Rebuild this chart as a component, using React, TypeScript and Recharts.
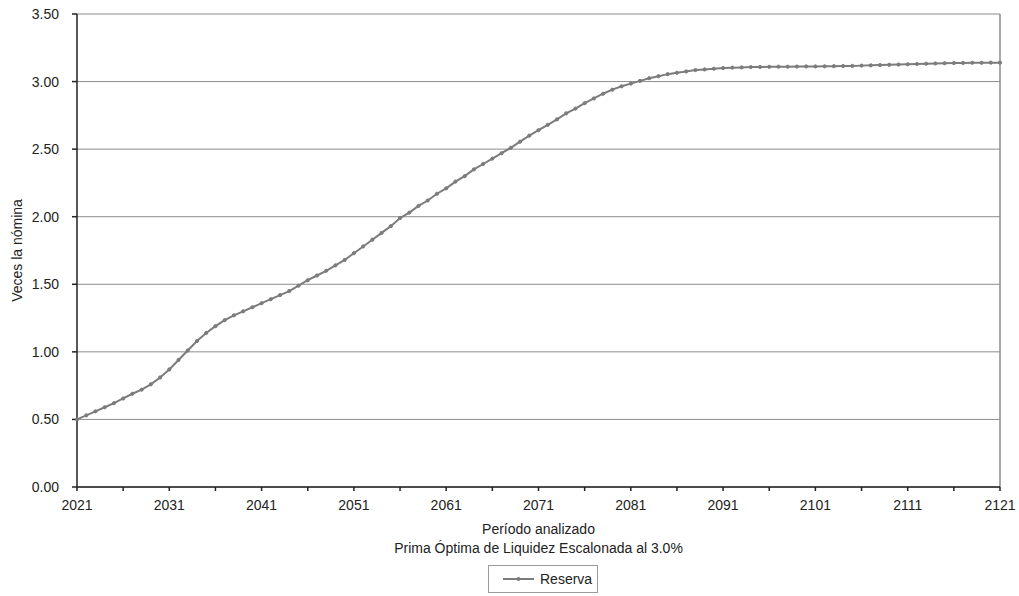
import React from 'react';
import { LineChart, Line, XAxis, YAxis, CartesianGrid, Legend, ReferenceLine } from 'recharts';

const years: number[] = Array.from({ length: 101 }, (_, i) => 2021 + i);

const reserva: number[] = [
  0.50, 0.53, 0.56, 0.59, 0.62, 0.655, 0.69, 0.72, 0.76, 0.81,
  0.87, 0.94, 1.01, 1.08, 1.14, 1.19, 1.235, 1.27, 1.30, 1.33,
  1.36, 1.39, 1.42, 1.45, 1.49, 1.53, 1.565, 1.60, 1.64, 1.68,
  1.73, 1.78, 1.83, 1.88, 1.93, 1.99, 2.03, 2.08, 2.12, 2.17,
  2.21, 2.26, 2.30, 2.35, 2.39, 2.43, 2.47, 2.51, 2.555, 2.60,
  2.64, 2.68, 2.72, 2.765, 2.80, 2.84, 2.875, 2.91, 2.94, 2.965,
  2.985, 3.005, 3.025, 3.04, 3.055, 3.065, 3.075, 3.085, 3.09, 3.095,
  3.10, 3.103, 3.105, 3.107, 3.108, 3.109, 3.11, 3.11, 3.111, 3.112,
  3.112, 3.113, 3.114, 3.115, 3.116, 3.118, 3.12, 3.122, 3.124, 3.126,
  3.128, 3.13, 3.132, 3.134, 3.136, 3.137, 3.138, 3.139, 3.139, 3.14,
  3.14,
];

const xTicks: number[] = [2021, 2026, 2031, 2036, 2041, 2046, 2051, 2056, 2061, 2066, 2071, 2076, 2081, 2086, 2091, 2096, 2101, 2106, 2111, 2116, 2121];
const xLabelled: number[] = [2021, 2031, 2041, 2051, 2061, 2071, 2081, 2091, 2101, 2111, 2121];
const yTicks: number[] = [0, 0.5, 1, 1.5, 2, 2.5, 3, 3.5];

const seriesName = 'Reserva';
const yTitle = 'Veces la nómina';
const xTitle1 = 'Período analizado';
const xTitle2 = 'Prima Óptima de Liquidez Escalonada al 3.0%';

const data = years.map((y, i) => ({ year: y, reserva: reserva[i] }));

const FONT = '"Liberation Sans", Arial, sans-serif';
const LINE = '#7c7c7c';

const LegendBox = () => (
  <div style={{ display: 'flex', justifyContent: 'center' }}>
    <div
      style={{
        boxSizing: 'border-box',
        width: 110,
        height: 28,
        marginLeft: 86,
        border: '1px solid #9a9a9a',
        display: 'flex',
        alignItems: 'center',
        paddingLeft: 14,
        fontFamily: FONT,
        fontSize: 14,
        color: '#222',
      }}
    >
      <svg width={31} height={10} style={{ marginRight: 6 }}>
        <line x1={0} y1={5} x2={31} y2={5} stroke={LINE} strokeWidth={2} />
        <circle cx={15.5} cy={5} r={2} fill={LINE} />
      </svg>
      <span>{seriesName}</span>
    </div>
  </div>
);

export default function App() {
  return (
    <div style={{ position: 'absolute', left: 0, top: 0, background: '#fff' }}>
      <LineChart width={1019} height={596} data={data} margin={{ top: 14, right: 19, left: 0, bottom: 3 }}>
        <CartesianGrid horizontal vertical={false} stroke="#8c8c8c" strokeWidth={1} />
        <XAxis
          dataKey="year"
          type="number"
          domain={[2021, 2121]}
          ticks={xTicks}
          interval={0}
          height={78}
          tickSize={4}
          tickMargin={9}
          stroke="#222"
          strokeWidth={1.5}
          tickFormatter={(v: number) => (xLabelled.includes(v) ? String(v) : '')}
          tick={{ fill: '#222', fontSize: 14, fontFamily: FONT }}
          label={{
            content: (props: any) => {
              const vb = props.viewBox || {};
              const cx = vb.x + vb.width / 2;
              return (
                <g fontFamily={FONT} fontSize={14} fill="#222">
                  <text x={cx} y={vb.y + 42} textAnchor="middle" dominantBaseline="central">{xTitle1}</text>
                  <text x={cx} y={vb.y + 61} textAnchor="middle" dominantBaseline="central">{xTitle2}</text>
                </g>
              );
            },
          }}
        />
        <YAxis
          type="number"
          domain={[0, 3.5]}
          ticks={yTicks}
          interval={0}
          width={77}
          tickSize={5}
          tickMargin={13}
          stroke="#222"
          strokeWidth={1.5}
          tickFormatter={(v: number) => v.toFixed(2)}
          tick={{ fill: '#222', fontSize: 14, fontFamily: FONT }}
          label={{
            content: (props: any) => {
              const vb = props.viewBox || {};
              const x = vb.x + 17;
              const y = vb.y + vb.height / 2;
              return (
                <text
                  x={x}
                  y={y}
                  transform={`rotate(-90, ${x}, ${y})`}
                  textAnchor="middle"
                  dominantBaseline="central"
                  fontFamily={FONT}
                  fontSize={14}
                  fill="#222"
                >
                  {yTitle}
                </text>
              );
            },
          }}
        />
        <ReferenceLine x={2121} stroke="#8c8c8c" strokeWidth={1.5} />
        <Legend verticalAlign="bottom" align="center" content={() => <LegendBox />} />
        <Line
          type="linear"
          dataKey="reserva"
          name={seriesName}
          stroke={LINE}
          strokeWidth={2}
          dot={{ r: 1.6, fill: LINE, stroke: LINE, strokeWidth: 1 }}
          isAnimationActive={false}
        />
      </LineChart>
    </div>
  );
}
